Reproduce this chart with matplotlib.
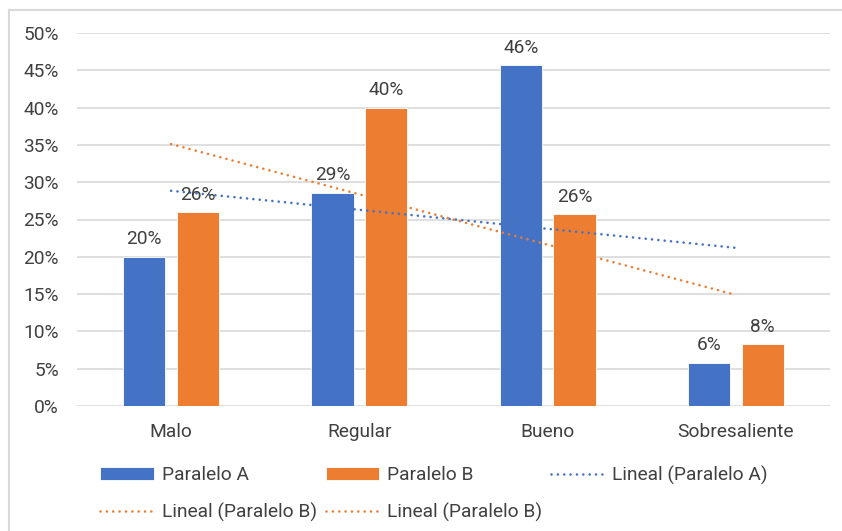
import numpy as np
import matplotlib.pyplot as plt
from matplotlib.lines import Line2D
from matplotlib.ticker import PercentFormatter

plt.rcParams['font.family'] = ['Roboto', 'DejaVu Sans']

categorias = ['Malo', 'Regular', 'Bueno', 'Sobresaliente']
paralelo_a = [0.200, 0.286, 0.457, 0.058]
paralelo_b = [0.260, 0.400, 0.257, 0.083]

azul = '#4472C4'
naranja = '#ED7D31'
texto = '#404040'
rejilla = '#D9D9D9'
fs = 13.8

fig = plt.figure(figsize=(8.42, 5.31), dpi=100)
ax = fig.add_axes([77 / 842, 1 - 406 / 531, (830 - 77) / 842, (406 - 33) / 531])

x = np.arange(len(categorias))
ancho = 0.225
sep = 0.03
ba = ax.bar(x - ancho / 2 - sep, paralelo_a, ancho, color=azul,
            edgecolor='white', linewidth=0.6, label='Paralelo A', zorder=2)
bb = ax.bar(x + ancho / 2 + sep, paralelo_b, ancho, color=naranja,
            edgecolor='white', linewidth=0.6, label='Paralelo B', zorder=2)

for barras, vals in ((ba, paralelo_a), (bb, paralelo_b)):
    for b, v in zip(barras, vals):
        ax.annotate(f'{v * 100:.0f}%', (b.get_x() + b.get_width() / 2, v),
                    xytext=(0, 6), textcoords='offset points',
                    ha='center', va='bottom', fontsize=fs, color=texto, zorder=4)

# lineas de tendencia (ajuste lineal)
xs = x + 1
ta = np.polyval(np.polyfit(xs, paralelo_a, 1), xs)
tb = np.polyval(np.polyfit(xs, paralelo_b, 1), xs)
estilo = dict(linestyle=(0, (0.01, 2.4)), linewidth=1.9, dash_capstyle='round', zorder=3)
la, = ax.plot(x, ta, color=azul, label='Lineal (Paralelo A)', **estilo)
lb, = ax.plot(x, tb, color=naranja, label='Lineal (Paralelo B)', **estilo)
lb2 = Line2D([], [], color=naranja, label='Lineal (Paralelo B)', **estilo)

ax.set_xlim(-0.5, 3.5)
ax.set_ylim(0, 0.5)
ax.set_yticks(np.arange(0, 0.51, 0.05))
ax.yaxis.set_major_formatter(PercentFormatter(1.0, decimals=0))
ax.set_xticks(x)
ax.set_xticklabels(categorias)
ax.tick_params(length=0, labelsize=fs, colors=texto)
ax.tick_params(axis='y', pad=13)
ax.tick_params(axis='x', pad=12)
ax.grid(axis='y', color=rejilla, linewidth=1.2, zorder=0)
ax.set_axisbelow(True)
for s in ax.spines.values():
    s.set_visible(False)

manijas = [ba, lb, bb, lb2, la]
leg = ax.legend(handles=manijas, labels=[h.get_label() for h in manijas],
                ncol=3, loc='upper left', bbox_to_anchor=(87 / 842, 1 - 452 / 531),
                bbox_transform=fig.transFigure, frameon=False, fontsize=fs,
                handlelength=2.8, handleheight=0.7, handletextpad=0.4,
                columnspacing=0.45, labelspacing=0.95, labelcolor=texto,
                borderpad=0.2)

# marco del grafico
fig.add_artist(Line2D([9 / 842, 1], [1 - 10 / 531, 1 - 10 / 531], color=rejilla, linewidth=1.5))
fig.add_artist(Line2D([9 / 842, 9 / 842], [0, 1 - 10 / 531], color=rejilla, linewidth=1.5))

fig.savefig('out.png', dpi=100)
